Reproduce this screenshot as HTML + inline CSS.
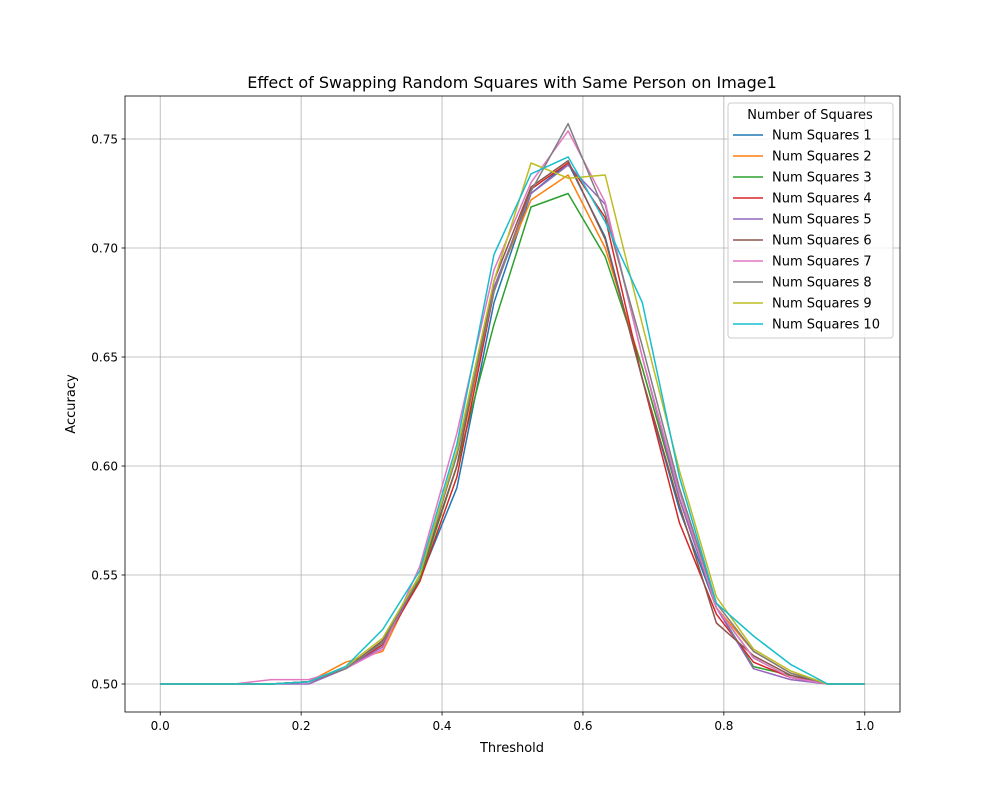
<!DOCTYPE html>
<html><head><meta charset="utf-8"><style>
body{margin:0;background:#fff;font-family:"Liberation Sans","DejaVu Sans",sans-serif}
svg text{font-family:"DejaVu Sans","Liberation Sans",sans-serif}
</style></head><body>
<svg id="chart" width="1000" height="800" xmlns="http://www.w3.org/2000/svg">
<rect width="1000" height="800" fill="#fff"/>
<text x="512" y="88" font-size="16" text-anchor="middle">Effect of Swapping Random Squares with Same Person on Image1</text>
<g id="grid"></g><g id="lines"></g><g id="axes"></g><g id="legend"></g>
<text x="512" y="752" font-size="13" text-anchor="middle">Threshold</text>
<text x="75" y="404" font-size="13" text-anchor="middle" transform="rotate(-90 75 404)">Accuracy</text>
</svg>
<script>
const xValues=[0,1,2,3,4,5,6,7,8,9,10,11,12,13,14,15,16,17,18,19].map(i=>i/19);
const seriesNames=["Num Squares 1","Num Squares 2","Num Squares 3","Num Squares 4","Num Squares 5","Num Squares 6","Num Squares 7","Num Squares 8","Num Squares 9","Num Squares 10"];
const colors=["#1f77b4","#ff7f0e","#2ca02c","#d62728","#9467bd","#8c564b","#e377c2","#7f7f7f","#bcbd22","#17becf"];
const s1=[0.5,0.5,0.5,0.5,0.501,0.507,0.519,0.548,0.590,0.675,0.725,0.739,0.705,0.640,0.580,0.535,0.512,0.503,0.5,0.5];
const s2=[0.5,0.5,0.5,0.5,0.501,0.510,0.515,0.550,0.600,0.682,0.722,0.7335,0.700,0.645,0.585,0.535,0.515,0.505,0.5,0.5];
const s3=[0.5,0.5,0.5,0.5,0.501,0.507,0.519,0.548,0.600,0.665,0.7188,0.725,0.696,0.645,0.585,0.535,0.508,0.504,0.5,0.5];
const s4=[0.5,0.5,0.5,0.5,0.501,0.507,0.518,0.547,0.595,0.680,0.727,0.739,0.714,0.640,0.574,0.532,0.510,0.503,0.5,0.5];
const s5=[0.5,0.5,0.5,0.5,0.500,0.507,0.517,0.550,0.605,0.682,0.725,0.738,0.720,0.650,0.585,0.535,0.507,0.502,0.5,0.5];
const s6=[0.5,0.5,0.5,0.5,0.501,0.507,0.520,0.550,0.600,0.685,0.728,0.740,0.704,0.640,0.582,0.528,0.513,0.504,0.5,0.5];
const s7=[0.5,0.5,0.5,0.502,0.502,0.507,0.516,0.554,0.615,0.690,0.730,0.7537,0.721,0.650,0.588,0.535,0.512,0.503,0.5,0.5];
const s8=[0.5,0.5,0.5,0.5,0.501,0.507,0.519,0.550,0.605,0.680,0.726,0.757,0.716,0.655,0.590,0.537,0.515,0.505,0.5,0.5];
const s9=[0.5,0.5,0.5,0.5,0.501,0.508,0.521,0.550,0.607,0.685,0.739,0.732,0.7335,0.665,0.598,0.540,0.516,0.506,0.5,0.5];
const s10=[0.5,0.5,0.5,0.5,0.501,0.508,0.525,0.552,0.610,0.697,0.734,0.7418,0.712,0.675,0.595,0.537,0.522,0.509,0.5,0.5];
const allSeries=[s1,s2,s3,s4,s5,s6,s7,s8,s9,s10];
const xTicks=[0,0.2,0.4,0.6,0.8,1.0];
const xTickLabels=["0.0","0.2","0.4","0.6","0.8","1.0"];
const yTicks=[0.5,0.55,0.6,0.65,0.7,0.75];
const yTickLabels=["0.50","0.55","0.60","0.65","0.70","0.75"];
const L=125,R=900,T=96,B=712,xmin=-0.05,xmax=1.05,ymin=0.48716,ymax=0.76972;
const X=v=>L+(v-xmin)/(xmax-xmin)*(R-L);
const Y=v=>B-(v-ymin)/(ymax-ymin)*(B-T);
const NS="http://www.w3.org/2000/svg";
function mk(tag,attrs,parent){const e=document.createElementNS(NS,tag);for(const k in attrs)e.setAttribute(k,attrs[k]);parent.appendChild(e);return e;}
const grid=document.getElementById('grid'),axes=document.getElementById('axes'),lines=document.getElementById('lines'),legend=document.getElementById('legend');
xTicks.forEach((t,i)=>{
 const g=mk('line',{x1:X(t),x2:X(t),y1:T,y2:B,stroke:'#b0b0b0','stroke-width':0.8},grid);
 
 
 mk('line',{x1:X(t),x2:X(t),y1:B,y2:B+3.5,stroke:'#000','stroke-width':0.8},axes);
 const tx=mk('text',{x:X(t),y:B+18,'font-size':12,'text-anchor':'middle'},axes);tx.textContent=xTickLabels[i];
 
 
});
yTicks.forEach((t,i)=>{
 const g=mk('line',{x1:L,x2:R,y1:Y(t),y2:Y(t),stroke:'#b0b0b0','stroke-width':0.8},grid);
 
 
 mk('line',{x1:L-3.5,x2:L,y1:Y(t),y2:Y(t),stroke:'#000','stroke-width':0.8},axes);
 const tx=mk('text',{x:L-7,y:Y(t)+4.5,'font-size':12,'text-anchor':'end'},axes);tx.textContent=yTickLabels[i];
 
 
});
const frame=mk('rect',{x:L,y:T,width:R-L,height:B-T,fill:'none',stroke:'#000','stroke-width':0.8},axes);


allSeries.forEach((s,k)=>{
 const p=mk('polyline',{points:s.map((v,i)=>X(xValues[i]).toFixed(1)+','+Y(v).toFixed(1)).join(' '),fill:'none',stroke:colors[k],'stroke-width':1.5,'stroke-linejoin':'round'},lines);
 
 
});
const lb=mk('rect',{x:728,y:103,width:165,height:235,rx:3,fill:'#fff','fill-opacity':0.8,stroke:'#ccc','stroke-width':1},legend);


const lt=mk('text',{x:810,y:119,'font-size':13,'text-anchor':'middle'},legend);lt.textContent='Number of Squares';


seriesNames.forEach((n,k)=>{
 const yy=135+k*21;
 const g=mk('g',{},legend);
 
 
 mk('line',{x1:733,x2:763,y1:yy,y2:yy,stroke:colors[k],'stroke-width':1.5},g);
 const t=mk('text',{x:772,y:yy+4.5,'font-size':13},g);t.textContent=n;
});
</script>
</body></html>
